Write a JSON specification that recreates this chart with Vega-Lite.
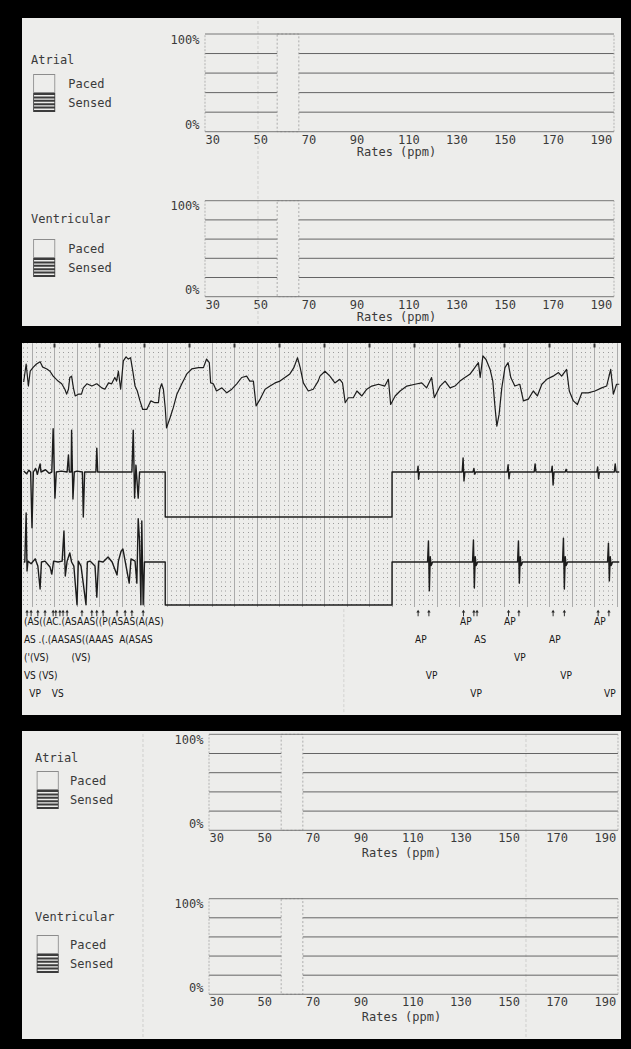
{
  "$schema": "https://vega.github.io/schema/vega-lite/v6.json",
  "background": "#000000",
  "padding": {"left": 22, "top": 18, "right": 10, "bottom": 11},
  "spacing": 16,
  "config": {
    "view": {"stroke": null},
    "axis": {"labelFont": "DejaVu Sans Mono", "labelFontSize": 12, "labelColor": "#3a3a3a", "titleFont": "DejaVu Sans Mono", "titleFontSize": 12, "titleFontWeight": "normal", "titleColor": "#3a3a3a", "domain": false, "ticks": false, "tickSize": 0, "grid": false, "labelOverlap": false, "labelBound": false, "labelFlush": false, "minExtent": 0, "maxExtent": 0},
    "legend": {"titleFont": "DejaVu Sans Mono", "titleFontSize": 12, "titleFontWeight": "normal", "titleColor": "#3a3a3a", "labelFont": "DejaVu Sans Mono", "labelFontSize": 12, "labelColor": "#3a3a3a", "padding": 0, "rowPadding": 0, "symbolSize": 361, "symbolStrokeWidth": 0, "orient": "none", "direction": "vertical", "titleAnchor": "start"}
  },
  "datasets": {
    "hist": [
      {"chamber": "Atrial", "lo": 60, "hi": 69, "pct": 100, "mode": "Paced"},
      {"chamber": "Ventricular", "lo": 60, "hi": 69, "pct": 100, "mode": "Paced"}
    ],
    "grid": [{"g": 0}, {"g": 20}, {"g": 40}, {"g": 60}, {"g": 80}, {"g": 100}],
    "edges": [{"rate": 30}, {"rate": 200}],
    "modes": [{"mode": "Paced"}, {"mode": "Sensed"}],
    "folds1": [{"rate": 52.03}],
    "folds3": [{"rate": 2.56}, {"rate": 161.76}],
    "foldsEcg": [{"t": 6.93}],
    "ecg": [
      {"ch":"surface","t":-0.185,"mm":50.0},{"ch":"surface","t":-0.13,"mm":54.0},{"ch":"surface","t":-0.08,"mm":49.1},{"ch":"surface","t":-0.04,"mm":52.4},{"ch":"surface","t":0.03,"mm":53.3},{"ch":"surface","t":0.10,"mm":54.0},{"ch":"surface","t":0.18,"mm":54.5},{"ch":"surface","t":0.24,"mm":53.3},{"ch":"surface","t":0.33,"mm":52.9},{"ch":"surface","t":0.40,"mm":52.4},{"ch":"surface","t":0.47,"mm":51.3},{"ch":"surface","t":0.58,"mm":50.2},{"ch":"surface","t":0.66,"mm":49.6},{"ch":"surface","t":0.73,"mm":48.4},{"ch":"surface","t":0.77,"mm":47.3},{"ch":"surface","t":0.81,"mm":48.4},{"ch":"surface","t":0.84,"mm":51.0},{"ch":"surface","t":0.88,"mm":51.3},{"ch":"surface","t":0.92,"mm":48.7},{"ch":"surface","t":0.96,"mm":46.9},{"ch":"surface","t":1.03,"mm":47.3},{"ch":"surface","t":1.10,"mm":47.3},{"ch":"surface","t":1.14,"mm":48.7},{"ch":"surface","t":1.22,"mm":49.6},{"ch":"surface","t":1.33,"mm":49.1},{"ch":"surface","t":1.44,"mm":49.6},{"ch":"surface","t":1.55,"mm":48.7},{"ch":"surface","t":1.62,"mm":48.4},{"ch":"surface","t":1.70,"mm":49.8},{"ch":"surface","t":1.77,"mm":49.6},{"ch":"surface","t":1.84,"mm":51.0},{"ch":"surface","t":1.88,"mm":50.2},{"ch":"surface","t":1.92,"mm":52.4},{"ch":"surface","t":1.97,"mm":48.4},{"ch":"surface","t":2.03,"mm":54.7},{"ch":"surface","t":2.09,"mm":55.6},{"ch":"surface","t":2.14,"mm":55.1},{"ch":"surface","t":2.19,"mm":55.4},{"ch":"surface","t":2.24,"mm":52.4},{"ch":"surface","t":2.29,"mm":49.1},{"ch":"surface","t":2.34,"mm":48.0},{"ch":"surface","t":2.40,"mm":45.8},{"ch":"surface","t":2.46,"mm":43.9},{"ch":"surface","t":2.55,"mm":43.9},{"ch":"surface","t":2.64,"mm":45.8},{"ch":"surface","t":2.73,"mm":45.4},{"ch":"surface","t":2.81,"mm":45.4},{"ch":"surface","t":2.84,"mm":48.4},{"ch":"surface","t":2.88,"mm":49.6},{"ch":"surface","t":2.92,"mm":48.4},{"ch":"surface","t":2.96,"mm":44.3},{"ch":"surface","t":2.99,"mm":39.8},{"ch":"surface","t":3.07,"mm":42.1},{"ch":"surface","t":3.14,"mm":44.3},{"ch":"surface","t":3.22,"mm":47.3},{"ch":"surface","t":3.33,"mm":49.6},{"ch":"surface","t":3.44,"mm":51.8},{"ch":"surface","t":3.55,"mm":52.9},{"ch":"surface","t":3.70,"mm":53.2},{"ch":"surface","t":3.81,"mm":53.2},{"ch":"surface","t":3.88,"mm":55.1},{"ch":"surface","t":3.94,"mm":54.3},{"ch":"surface","t":3.97,"mm":49.8},{"ch":"surface","t":4.03,"mm":49.6},{"ch":"surface","t":4.10,"mm":48.0},{"ch":"surface","t":4.22,"mm":48.7},{"ch":"surface","t":4.33,"mm":47.6},{"ch":"surface","t":4.44,"mm":48.4},{"ch":"surface","t":4.55,"mm":49.6},{"ch":"surface","t":4.66,"mm":51.0},{"ch":"surface","t":4.77,"mm":51.3},{"ch":"surface","t":4.84,"mm":50.2},{"ch":"surface","t":4.92,"mm":50.2},{"ch":"surface","t":4.98,"mm":44.7},{"ch":"surface","t":5.07,"mm":46.2},{"ch":"surface","t":5.18,"mm":48.4},{"ch":"surface","t":5.29,"mm":49.1},{"ch":"surface","t":5.40,"mm":49.8},{"ch":"surface","t":5.51,"mm":50.2},{"ch":"surface","t":5.62,"mm":51.0},{"ch":"surface","t":5.73,"mm":51.8},{"ch":"surface","t":5.82,"mm":53.2},{"ch":"surface","t":5.90,"mm":55.4},{"ch":"surface","t":5.96,"mm":53.2},{"ch":"surface","t":6.03,"mm":49.8},{"ch":"surface","t":6.14,"mm":48.0},{"ch":"surface","t":6.25,"mm":48.4},{"ch":"surface","t":6.36,"mm":50.2},{"ch":"surface","t":6.40,"mm":51.3},{"ch":"surface","t":6.51,"mm":52.4},{"ch":"surface","t":6.62,"mm":51.3},{"ch":"surface","t":6.73,"mm":49.8},{"ch":"surface","t":6.84,"mm":50.6},{"ch":"surface","t":6.90,"mm":49.8},{"ch":"surface","t":6.96,"mm":45.4},{"ch":"surface","t":7.03,"mm":46.5},{"ch":"surface","t":7.14,"mm":46.5},{"ch":"surface","t":7.22,"mm":48.0},{"ch":"surface","t":7.33,"mm":46.9},{"ch":"surface","t":7.44,"mm":48.4},{"ch":"surface","t":7.55,"mm":49.1},{"ch":"surface","t":7.70,"mm":49.5},{"ch":"surface","t":7.84,"mm":49.1},{"ch":"surface","t":7.92,"mm":50.6},{"ch":"surface","t":7.97,"mm":45.0},{"ch":"surface","t":8.07,"mm":46.9},{"ch":"surface","t":8.18,"mm":48.0},{"ch":"surface","t":8.33,"mm":49.1},{"ch":"surface","t":8.51,"mm":49.5},{"ch":"surface","t":8.66,"mm":49.8},{"ch":"surface","t":8.77,"mm":48.7},{"ch":"surface","t":8.88,"mm":51.0},{"ch":"surface","t":8.94,"mm":46.5},{"ch":"surface","t":9.07,"mm":49.1},{"ch":"surface","t":9.18,"mm":50.2},{"ch":"surface","t":9.29,"mm":48.7},{"ch":"surface","t":9.40,"mm":49.1},{"ch":"surface","t":9.51,"mm":50.2},{"ch":"surface","t":9.62,"mm":51.0},{"ch":"surface","t":9.73,"mm":51.7},{"ch":"surface","t":9.84,"mm":53.2},{"ch":"surface","t":9.92,"mm":54.3},{"ch":"surface","t":9.96,"mm":51.0},{"ch":"surface","t":10.02,"mm":55.8},{"ch":"surface","t":10.09,"mm":55.0},{"ch":"surface","t":10.18,"mm":52.8},{"ch":"surface","t":10.24,"mm":50.2},{"ch":"surface","t":10.29,"mm":44.3},{"ch":"surface","t":10.33,"mm":40.2},{"ch":"surface","t":10.38,"mm":42.8},{"ch":"surface","t":10.44,"mm":48.7},{"ch":"surface","t":10.51,"mm":53.2},{"ch":"surface","t":10.58,"mm":54.3},{"ch":"surface","t":10.64,"mm":51.0},{"ch":"surface","t":10.73,"mm":49.1},{"ch":"surface","t":10.84,"mm":49.5},{"ch":"surface","t":10.92,"mm":45.8},{"ch":"surface","t":11.03,"mm":46.2},{"ch":"surface","t":11.14,"mm":48.0},{"ch":"surface","t":11.23,"mm":46.9},{"ch":"surface","t":11.33,"mm":49.5},{"ch":"surface","t":11.44,"mm":50.6},{"ch":"surface","t":11.58,"mm":51.3},{"ch":"surface","t":11.70,"mm":52.1},{"ch":"surface","t":11.77,"mm":51.3},{"ch":"surface","t":11.88,"mm":52.8},{"ch":"surface","t":11.94,"mm":48.0},{"ch":"surface","t":12.03,"mm":45.8},{"ch":"surface","t":12.12,"mm":45.0},{"ch":"surface","t":12.22,"mm":47.6},{"ch":"surface","t":12.36,"mm":47.6},{"ch":"surface","t":12.51,"mm":48.0},{"ch":"surface","t":12.66,"mm":48.7},{"ch":"surface","t":12.77,"mm":49.1},{"ch":"surface","t":12.86,"mm":52.8},{"ch":"surface","t":12.92,"mm":47.3},{"ch":"surface","t":12.99,"mm":49.5},{"ch":"surface","t":13.05,"mm":49.5},

      {"ch":"atrial","t":-0.185,"mm":30.2},{"ch":"atrial","t":-0.12,"mm":29.6},{"ch":"atrial","t":-0.07,"mm":30.4},{"ch":"atrial","t":-0.03,"mm":30},{"ch":"atrial","t":0.0,"mm":17.6},{"ch":"atrial","t":0.03,"mm":30},{"ch":"atrial","t":0.08,"mm":30.8},{"ch":"atrial","t":0.12,"mm":29.5},{"ch":"atrial","t":0.18,"mm":31.8},{"ch":"atrial","t":0.2,"mm":30},{"ch":"atrial","t":0.3,"mm":30.5},{"ch":"atrial","t":0.38,"mm":29.7},{"ch":"atrial","t":0.44,"mm":30},{"ch":"atrial","t":0.47,"mm":39.6},{"ch":"atrial","t":0.51,"mm":24.2},{"ch":"atrial","t":0.54,"mm":30},{"ch":"atrial","t":0.65,"mm":30.2},{"ch":"atrial","t":0.78,"mm":30},{"ch":"atrial","t":0.81,"mm":33.8},{"ch":"atrial","t":0.83,"mm":30},{"ch":"atrial","t":0.87,"mm":30},{"ch":"atrial","t":0.88,"mm":39.3},{"ch":"atrial","t":0.91,"mm":24.0},{"ch":"atrial","t":0.94,"mm":30},{"ch":"atrial","t":1.0,"mm":30.2},{"ch":"atrial","t":1.12,"mm":30},{"ch":"atrial","t":1.14,"mm":20.0},{"ch":"atrial","t":1.17,"mm":30},{"ch":"atrial","t":1.3,"mm":30},{"ch":"atrial","t":1.42,"mm":30},{"ch":"atrial","t":1.44,"mm":35.3},{"ch":"atrial","t":1.46,"mm":30},{"ch":"atrial","t":1.8,"mm":30},{"ch":"atrial","t":2.22,"mm":30},{"ch":"atrial","t":2.25,"mm":39.3},{"ch":"atrial","t":2.28,"mm":24.2},{"ch":"atrial","t":2.31,"mm":31.5},{"ch":"atrial","t":2.33,"mm":28.5},{"ch":"atrial","t":2.36,"mm":24.2},{"ch":"atrial","t":2.39,"mm":30},{"ch":"atrial","t":2.96,"mm":30},{"ch":"atrial","t":2.961,"mm":20},{"ch":"atrial","t":8.0,"mm":20},{"ch":"atrial","t":8.001,"mm":30},{"ch":"atrial","t":8.56,"mm":30},{"ch":"atrial","t":8.58,"mm":31.3},{"ch":"atrial","t":8.59,"mm":28.4},{"ch":"atrial","t":8.61,"mm":30},{"ch":"atrial","t":9.56,"mm":30},{"ch":"atrial","t":9.58,"mm":33.1},{"ch":"atrial","t":9.6,"mm":28.0},{"ch":"atrial","t":9.62,"mm":30},{"ch":"atrial","t":9.8,"mm":30},{"ch":"atrial","t":9.82,"mm":30.8},{"ch":"atrial","t":9.84,"mm":29.5},{"ch":"atrial","t":9.86,"mm":30},{"ch":"atrial","t":10.56,"mm":30},{"ch":"atrial","t":10.58,"mm":31.6},{"ch":"atrial","t":10.6,"mm":28.5},{"ch":"atrial","t":10.62,"mm":30},{"ch":"atrial","t":11.16,"mm":30},{"ch":"atrial","t":11.18,"mm":31.8},{"ch":"atrial","t":11.2,"mm":30},{"ch":"atrial","t":11.54,"mm":30},{"ch":"atrial","t":11.56,"mm":31.3},{"ch":"atrial","t":11.58,"mm":27.1},{"ch":"atrial","t":11.6,"mm":30},{"ch":"atrial","t":11.85,"mm":30},{"ch":"atrial","t":11.87,"mm":30.6},{"ch":"atrial","t":11.89,"mm":30},{"ch":"atrial","t":12.55,"mm":30},{"ch":"atrial","t":12.57,"mm":31.1},{"ch":"atrial","t":12.59,"mm":28.6},{"ch":"atrial","t":12.61,"mm":30},{"ch":"atrial","t":12.94,"mm":30},{"ch":"atrial","t":12.96,"mm":31.8},{"ch":"atrial","t":12.98,"mm":30},{"ch":"atrial","t":13.05,"mm":30},

      {"ch":"ventricular","t":-0.185,"mm":10},{"ch":"ventricular","t":-0.16,"mm":10},{"ch":"ventricular","t":-0.13,"mm":20.9},{"ch":"ventricular","t":-0.11,"mm":8.0},{"ch":"ventricular","t":-0.09,"mm":10.2},{"ch":"ventricular","t":-0.02,"mm":9.6},{"ch":"ventricular","t":0.07,"mm":10.7},{"ch":"ventricular","t":0.13,"mm":9.1},{"ch":"ventricular","t":0.18,"mm":4.0},{"ch":"ventricular","t":0.21,"mm":10},{"ch":"ventricular","t":0.29,"mm":10.2},{"ch":"ventricular","t":0.4,"mm":8.9},{"ch":"ventricular","t":0.44,"mm":7.3},{"ch":"ventricular","t":0.48,"mm":10.2},{"ch":"ventricular","t":0.58,"mm":10},{"ch":"ventricular","t":0.67,"mm":10.2},{"ch":"ventricular","t":0.71,"mm":16.9},{"ch":"ventricular","t":0.74,"mm":6.9},{"ch":"ventricular","t":0.78,"mm":10.2},{"ch":"ventricular","t":0.84,"mm":12.0},{"ch":"ventricular","t":0.88,"mm":10},{"ch":"ventricular","t":0.93,"mm":9.1},{"ch":"ventricular","t":1.0,"mm":0.5},{"ch":"ventricular","t":1.03,"mm":10.2},{"ch":"ventricular","t":1.09,"mm":9.1},{"ch":"ventricular","t":1.2,"mm":0.5},{"ch":"ventricular","t":1.23,"mm":10},{"ch":"ventricular","t":1.29,"mm":10.2},{"ch":"ventricular","t":1.4,"mm":9.1},{"ch":"ventricular","t":1.44,"mm":2.2},{"ch":"ventricular","t":1.48,"mm":10.2},{"ch":"ventricular","t":1.58,"mm":10},{"ch":"ventricular","t":1.69,"mm":11.1},{"ch":"ventricular","t":1.78,"mm":10},{"ch":"ventricular","t":1.89,"mm":7.1},{"ch":"ventricular","t":1.92,"mm":10.2},{"ch":"ventricular","t":1.98,"mm":12.4},{"ch":"ventricular","t":2.02,"mm":12.9},{"ch":"ventricular","t":2.07,"mm":10.2},{"ch":"ventricular","t":2.16,"mm":5.3},{"ch":"ventricular","t":2.2,"mm":10.7},{"ch":"ventricular","t":2.29,"mm":10.2},{"ch":"ventricular","t":2.33,"mm":5.3},{"ch":"ventricular","t":2.36,"mm":19.6},{"ch":"ventricular","t":2.39,"mm":14.7},{"ch":"ventricular","t":2.42,"mm":0.5},{"ch":"ventricular","t":2.44,"mm":19.1},{"ch":"ventricular","t":2.47,"mm":0.5},{"ch":"ventricular","t":2.5,"mm":10},{"ch":"ventricular","t":2.96,"mm":10},{"ch":"ventricular","t":2.961,"mm":0.45},{"ch":"ventricular","t":8.0,"mm":0.45},{"ch":"ventricular","t":8.001,"mm":10},
      {"ch":"ventricular","t":8.79,"mm":10},{"ch":"ventricular","t":8.81,"mm":14.7},{"ch":"ventricular","t":8.83,"mm":3.6},{"ch":"ventricular","t":8.85,"mm":11.2},{"ch":"ventricular","t":8.87,"mm":9.2},{"ch":"ventricular","t":8.9,"mm":10},
      {"ch":"ventricular","t":9.79,"mm":10},{"ch":"ventricular","t":9.81,"mm":14.9},{"ch":"ventricular","t":9.83,"mm":4.2},{"ch":"ventricular","t":9.85,"mm":11.2},{"ch":"ventricular","t":9.87,"mm":9.2},{"ch":"ventricular","t":9.9,"mm":10},
      {"ch":"ventricular","t":10.79,"mm":10},{"ch":"ventricular","t":10.81,"mm":14.7},{"ch":"ventricular","t":10.83,"mm":5.3},{"ch":"ventricular","t":10.85,"mm":11.2},{"ch":"ventricular","t":10.87,"mm":9.2},{"ch":"ventricular","t":10.9,"mm":10},
      {"ch":"ventricular","t":11.79,"mm":10},{"ch":"ventricular","t":11.81,"mm":15.3},{"ch":"ventricular","t":11.83,"mm":4.0},{"ch":"ventricular","t":11.85,"mm":11.2},{"ch":"ventricular","t":11.87,"mm":9.2},{"ch":"ventricular","t":11.9,"mm":10},
      {"ch":"ventricular","t":12.79,"mm":10},{"ch":"ventricular","t":12.81,"mm":14.2},{"ch":"ventricular","t":12.83,"mm":5.8},{"ch":"ventricular","t":12.85,"mm":11.2},{"ch":"ventricular","t":12.87,"mm":9.2},{"ch":"ventricular","t":12.9,"mm":10},
      {"ch":"ventricular","t":13.05,"mm":10}
    ],
    "markers": [
      {"t":-0.11},{"t":-0.02},{"t":0.13},{"t":0.29},{"t":0.47},{"t":0.53},{"t":0.62},{"t":0.69},{"t":0.78},{"t":1.11},{"t":1.33},{"t":1.44},{"t":1.58},{"t":1.89},{"t":2.07},{"t":2.22},{"t":2.47},
      {"t":8.58},{"t":8.82},{"t":9.59},{"t":9.82},{"t":9.89},{"t":10.59},{"t":10.82},{"t":11.58},{"t":11.83},{"t":12.58},{"t":12.82}
    ],
    "labels": [
      {"t":-0.18,"row":1,"label":"(AS((AC.(ASAAS((P(ASAS(A(AS)","pos":"left"},
      {"t":-0.18,"row":2,"label":"AS .(.(AASAS((AAAS\u00a0 A(ASAS","pos":"left"},
      {"t":-0.18,"row":3,"label":"('(VS)","pos":"left"},
      {"t":0.88,"row":3,"label":"(VS)","pos":"left"},
      {"t":-0.18,"row":4,"label":"VS (VS)","pos":"left"},
      {"t":-0.06,"row":5,"label":"VP","pos":"left"},
      {"t":0.44,"row":5,"label":"VS","pos":"left"},
      {"t":9.64,"row":1,"label":"AP","pos":"center"},
      {"t":10.62,"row":1,"label":"AP","pos":"center"},
      {"t":12.62,"row":1,"label":"AP","pos":"center"},
      {"t":8.64,"row":2,"label":"AP","pos":"center"},
      {"t":9.96,"row":2,"label":"AS","pos":"center"},
      {"t":11.62,"row":2,"label":"AP","pos":"center"},
      {"t":10.84,"row":3,"label":"VP","pos":"center"},
      {"t":8.88,"row":4,"label":"VP","pos":"center"},
      {"t":11.87,"row":4,"label":"VP","pos":"center"},
      {"t":9.87,"row":5,"label":"VP","pos":"center"},
      {"t":12.84,"row":5,"label":"VP","pos":"center"}
    ]
  },
  "vconcat": [
    {
      "width": 599, "height": 308,
      "view": {"fill": "#ededeb", "stroke": null},
      "resolve": {"scale": {"x": "independent", "y": "independent", "color": "independent", "shape": "independent"}, "axis": {"x": "independent", "y": "independent"}, "legend": {"color": "independent", "shape": "independent"}},
      "layer": [
        {"data": {"name": "folds1"},
         "mark": {"type": "rule", "color": "#cfcfcd", "strokeWidth": 1, "strokeDash": [3, 2]},
         "encoding": {"x": {"field": "rate", "type": "quantitative", "scale": {"domain": [-46.06, 202.91], "nice": false, "zero": false}, "axis": null}, "y": {"datum": -196.8, "type": "quantitative", "scale": {"domain": [-198.87, 116.38], "nice": false, "zero": false}, "axis": null}, "y2": {"datum": 114.3}}},
        {"data": {"name": "grid"}, "transform": [{"filter": "datum.g > 0 && datum.g < 100"}],
         "mark": {"type": "rule", "color": "#646464", "strokeWidth": 1},
         "encoding": {
           "x": {"datum": 30, "type": "quantitative", "scale": {"domain": [-46.06, 202.91], "nice": false, "zero": false}, "axis": {"orient": "bottom", "offset": -194.3, "values": [30, 50, 70, 90, 110, 130, 150, 170, 190], "labelAlign": "left", "labelBaseline": "top", "labelPadding": 2.5, "title": "Rates (ppm)", "titleX": 374, "titleY": 15, "titleAlign": "center", "titleBaseline": "top"}},
           "x2": {"datum": 200},
           "y": {"field": "g", "type": "quantitative", "scale": {"domain": [-198.87, 116.38], "nice": false, "zero": false}, "axis": {"orient": "left", "offset": -183, "values": [0, 100], "labelExpr": "datum.value + '%'", "labelPadding": 6, "labelBaseline": {"condition": {"test": "datum.value == 100", "value": "top"}, "value": "bottom"}, "title": null}}}},
        {"data": {"name": "hist"}, "transform": [{"filter": "datum.chamber == 'Atrial'"}],
         "mark": {"type": "rect", "fill": "#ededeb", "stroke": "#9d9d9d", "strokeWidth": 0.8, "strokeDash": [2, 2]},
         "encoding": {
           "x": {"field": "lo", "type": "quantitative", "scale": {"domain": [-46.06, 202.91], "nice": false, "zero": false}, "axis": null},
           "x2": {"field": "hi"},
           "y": {"field": "pct", "type": "quantitative", "scale": {"domain": [-198.87, 116.38], "nice": false, "zero": false}, "axis": null},
           "y2": {"datum": 0}}},
        {"data": {"name": "grid"}, "transform": [{"filter": "datum.g == 0 || datum.g == 100"}],
         "mark": {"type": "rule", "color": "#777777", "strokeWidth": 1},
         "encoding": {"x": {"datum": 30, "type": "quantitative", "scale": {"domain": [-46.06, 202.91], "nice": false, "zero": false}, "axis": null}, "x2": {"datum": 200}, "y": {"field": "g", "type": "quantitative", "scale": {"domain": [-198.87, 116.38], "nice": false, "zero": false}, "axis": null}}},
        {"data": {"name": "edges"},
         "mark": {"type": "rule", "color": "#a5a5a5", "strokeWidth": 0.8, "strokeDash": [2, 1.5]},
         "encoding": {"x": {"field": "rate", "type": "quantitative", "scale": {"domain": [-46.06, 202.91], "nice": false, "zero": false}, "axis": null}, "y": {"datum": 0, "type": "quantitative", "scale": {"domain": [-198.87, 116.38], "nice": false, "zero": false}, "axis": null}, "y2": {"datum": 100}}},
        {"data": {"name": "modes"}, "transform": [{"filter": "false"}],
         "mark": {"type": "point", "filled": true, "opacity": 1, "strokeWidth": 0},
         "encoding": {
           "shape": {"field": "mode", "type": "nominal", "scale": {"domain": ["Paced", "Sensed"], "range": ["M-1.16,-1H1.16V1H-1.16Z M-1.07,-0.9V0.9H1.07V-0.9Z", "M-1.16,-1H1.16V-0.78H-1.16Z M-1.16,-0.644H1.16V-0.424H-1.16Z M-1.16,-0.288H1.16V-0.068H-1.16Z M-1.16,0.068H1.16V0.288H-1.16Z M-1.16,0.424H1.16V0.644H-1.16Z M-1.16,0.78H1.16V1H-1.16Z M-1.16,-1H-1.07V1H-1.16Z M1.07,-1H1.16V1H1.07Z"]}, "legend": {"title": "Atrial", "legendX": 9, "legendY": 37.3, "titlePadding": 6.7, "symbolOffset": 3.7, "labelOffset": 14.6}},
           "color": {"field": "mode", "type": "nominal", "scale": {"domain": ["Paced", "Sensed"], "range": ["#8c8c8c", "#3c3c3c"]}, "legend": {"title": "Atrial", "legendX": 9, "legendY": 37.3, "titlePadding": 6.7, "symbolOffset": 3.7, "labelOffset": 14.6}}
         }},
        {"data": {"name": "grid"}, "transform": [{"filter": "datum.g > 0 && datum.g < 100"}],
         "mark": {"type": "rule", "color": "#646464", "strokeWidth": 1},
         "encoding": {
           "x": {"datum": 30, "type": "quantitative", "scale": {"domain": [-46.06, 202.91], "nice": false, "zero": false}, "axis": {"orient": "bottom", "offset": -29.3, "values": [30, 50, 70, 90, 110, 130, 150, 170, 190], "labelAlign": "left", "labelBaseline": "top", "labelPadding": 2.5, "title": "Rates (ppm)", "titleX": 374, "titleY": 15, "titleAlign": "center", "titleBaseline": "top"}},
           "x2": {"datum": 200},
           "y": {"field": "g", "type": "quantitative", "scale": {"domain": [-30.52, 290.31], "nice": false, "zero": false}, "axis": {"orient": "left", "offset": -183, "values": [0, 100], "labelExpr": "datum.value + '%'", "labelPadding": 6, "labelBaseline": {"condition": {"test": "datum.value == 100", "value": "top"}, "value": "bottom"}, "title": null}}}},
        {"data": {"name": "hist"}, "transform": [{"filter": "datum.chamber == 'Ventricular'"}],
         "mark": {"type": "rect", "fill": "#ededeb", "stroke": "#9d9d9d", "strokeWidth": 0.8, "strokeDash": [2, 2]},
         "encoding": {
           "x": {"field": "lo", "type": "quantitative", "scale": {"domain": [-46.06, 202.91], "nice": false, "zero": false}, "axis": null},
           "x2": {"field": "hi"},
           "y": {"field": "pct", "type": "quantitative", "scale": {"domain": [-30.52, 290.31], "nice": false, "zero": false}, "axis": null},
           "y2": {"datum": 0}}},
        {"data": {"name": "grid"}, "transform": [{"filter": "datum.g == 0 || datum.g == 100"}],
         "mark": {"type": "rule", "color": "#777777", "strokeWidth": 1},
         "encoding": {"x": {"datum": 30, "type": "quantitative", "scale": {"domain": [-46.06, 202.91], "nice": false, "zero": false}, "axis": null}, "x2": {"datum": 200}, "y": {"field": "g", "type": "quantitative", "scale": {"domain": [-30.52, 290.31], "nice": false, "zero": false}, "axis": null}}},
        {"data": {"name": "edges"},
         "mark": {"type": "rule", "color": "#a5a5a5", "strokeWidth": 0.8, "strokeDash": [2, 1.5]},
         "encoding": {"x": {"field": "rate", "type": "quantitative", "scale": {"domain": [-46.06, 202.91], "nice": false, "zero": false}, "axis": null}, "y": {"datum": 0, "type": "quantitative", "scale": {"domain": [-30.52, 290.31], "nice": false, "zero": false}, "axis": null}, "y2": {"datum": 100}}},
        {"data": {"name": "modes"}, "transform": [{"filter": "false"}],
         "mark": {"type": "point", "filled": true, "opacity": 1, "strokeWidth": 0},
         "encoding": {
           "shape": {"field": "mode", "type": "nominal", "scale": {"domain": ["Paced", "Sensed"], "range": ["M-1.16,-1H1.16V1H-1.16Z M-1.07,-0.9V0.9H1.07V-0.9Z", "M-1.16,-1H1.16V-0.78H-1.16Z M-1.16,-0.644H1.16V-0.424H-1.16Z M-1.16,-0.288H1.16V-0.068H-1.16Z M-1.16,0.068H1.16V0.288H-1.16Z M-1.16,0.424H1.16V0.644H-1.16Z M-1.16,0.78H1.16V1H-1.16Z M-1.16,-1H-1.07V1H-1.16Z M1.07,-1H1.16V1H1.07Z"]}, "legend": {"title": "Ventricular", "legendX": 9, "legendY": 196, "titlePadding": 13, "symbolOffset": 3.7, "labelOffset": 14.6}},
           "color": {"field": "mode", "type": "nominal", "scale": {"domain": ["Paced", "Sensed"], "range": ["#8c8c8c", "#3c3c3c"]}, "legend": {"title": "Ventricular", "legendX": 9, "legendY": 196, "titlePadding": 13, "symbolOffset": 3.7, "labelOffset": 14.6}}
         }}
      ]
    },
    {
      "spacing": 0,
      "bounds": "flush",
      "vconcat": [
        {
          "width": 599, "height": 264,
          "view": {"fill": "#ededeb", "stroke": null},
          "data": {"name": "ecg"},
          "resolve": {"axis": {"x": "independent"}},
          "layer": [
            {"transform": [{"filter": "datum.ch == 'surface'"}],
             "mark": {"type": "line", "color": "#1c1c1c", "strokeWidth": 1.2, "strokeJoin": "round"},
             "encoding": {
               "x": {"field": "t", "type": "quantitative", "scale": {"domain": [-0.2222, 13.0889], "nice": false, "zero": false}, "axis": {"orient": "bottom", "values": [-0.2,-0.1,0,0.1,0.2,0.3,0.4,0.5,0.6,0.7,0.8,0.9,1,1.1,1.2,1.3,1.4,1.5,1.6,1.7,1.8,1.9,2,2.1,2.2,2.3,2.4,2.5,2.6,2.7,2.8,2.9,3,3.1,3.2,3.3,3.4,3.5,3.6,3.7,3.8,3.9,4,4.1,4.2,4.3,4.4,4.5,4.6,4.7,4.8,4.9,5,5.1,5.2,5.3,5.4,5.5,5.6,5.7,5.8,5.9,6,6.1,6.2,6.3,6.4,6.5,6.6,6.7,6.8,6.9,7,7.1,7.2,7.3,7.4,7.5,7.6,7.7,7.8,7.9,8,8.1,8.2,8.3,8.4,8.5,8.6,8.7,8.8,8.9,9,9.1,9.2,9.3,9.4,9.5,9.6,9.7,9.8,9.9,10,10.1,10.2,10.3,10.4,10.5,10.6,10.7,10.8,10.9,11,11.1,11.2,11.3,11.4,11.5,11.6,11.7,11.8,11.9,12,12.1,12.2,12.3,12.4,12.5,12.6,12.7,12.8,12.9,13], "grid": true, "gridColor": "#9a9a9a", "gridDash": [1, 3.5], "gridDashOffset": 0.5, "gridWidth": 1, "labels": false, "title": null}},
               "y": {"field": "mm", "type": "quantitative", "scale": {"domain": [0, 58.667], "nice": false, "zero": false}, "axis": {"values": [0,5,10,15,20,25,30,35,40,45,50,55], "grid": true, "gridColor": "#b4b4b4", "gridWidth": 1, "labels": false, "title": null}}
             }},
            {"transform": [{"filter": "datum.ch == 'atrial'"}],
             "mark": {"type": "line", "color": "#1c1c1c", "strokeWidth": 1.4, "strokeJoin": "round"},
             "encoding": {
               "x": {"field": "t", "type": "quantitative", "scale": {"domain": [-0.2222, 13.0889], "nice": false, "zero": false}, "axis": {"orient": "bottom", "values": [0,0.5,1,1.5,2,2.5,3,3.5,4,4.5,5,5.5,6,6.5,7,7.5,8,8.5,9,9.5,10,10.5,11,11.5,12,12.5,13], "grid": true, "gridColor": "#ababab", "gridWidth": 1, "labels": false, "title": null}},
               "y": {"field": "mm", "type": "quantitative", "scale": {"domain": [0, 58.667], "nice": false, "zero": false}, "axis": null}
             }},
            {"transform": [{"filter": "datum.ch == 'ventricular'"}],
             "mark": {"type": "line", "color": "#1c1c1c", "strokeWidth": 1.4, "strokeJoin": "round"},
             "encoding": {
               "x": {"field": "t", "type": "quantitative", "scale": {"domain": [-0.2222, 13.0889], "nice": false, "zero": false}, "axis": {"orient": "top", "values": [0.5,1.5,2.5,3.5,4.5,5.5,6.5,7.5,8.5,9.5,10.5,11.5,12.5], "ticks": true, "tickSize": -4, "tickWidth": 2, "tickColor": "#333333", "labels": false, "grid": false, "title": null}},
               "y": {"field": "mm", "type": "quantitative", "scale": {"domain": [0, 58.667], "nice": false, "zero": false}, "axis": null}
             }}
          ]
        },
        {
          "width": 599, "height": 108,
          "view": {"fill": "#ededeb", "stroke": null},
          "layer": [
            {"data": {"name": "foldsEcg"},
             "mark": {"type": "rule", "color": "#d2d2d0", "strokeWidth": 1, "strokeDash": [3, 2]},
             "encoding": {
               "x": {"field": "t", "type": "quantitative", "scale": {"domain": [-0.2222, 13.0889], "nice": false, "zero": false}, "axis": null},
               "y": {"datum": 0.31, "type": "quantitative", "scale": {"domain": [0.194, 6.194], "reverse": true, "nice": false, "zero": false}, "axis": null},
               "y2": {"datum": 6.08}
             }},
            {"data": {"name": "markers"},
             "mark": {"type": "point", "shape": "M0,-1L0.55,-0.2L0.15,-0.2L0.15,1L-0.15,1L-0.15,-0.2L-0.55,-0.2Z", "filled": true, "color": "#262626", "opacity": 1, "size": 40, "strokeWidth": 0, "yOffset": -8.5},
             "encoding": {
               "x": {"field": "t", "type": "quantitative", "scale": {"domain": [-0.2222, 13.0889], "nice": false, "zero": false}, "axis": null},
               "y": {"datum": 1, "type": "quantitative", "scale": {"domain": [0.194, 6.194], "reverse": true, "nice": false, "zero": false}, "axis": null}
             }},
            {"data": {"name": "labels"}, "transform": [{"filter": "datum.pos == 'left'"}],
             "mark": {"type": "text", "align": "left", "baseline": "middle", "font": "DejaVu Sans Condensed, Liberation Sans Narrow, sans-serif", "fontSize": 10, "color": "#151515"},
             "encoding": {
               "x": {"field": "t", "type": "quantitative", "scale": {"domain": [-0.2222, 13.0889], "nice": false, "zero": false}, "axis": null},
               "y": {"field": "row", "type": "quantitative", "scale": {"domain": [0.194, 6.194], "reverse": true, "nice": false, "zero": false}, "axis": null},
               "text": {"field": "label"}
             }},
            {"data": {"name": "labels"}, "transform": [{"filter": "datum.pos == 'center'"}],
             "mark": {"type": "text", "align": "center", "baseline": "middle", "font": "DejaVu Sans Condensed, Liberation Sans Narrow, sans-serif", "fontSize": 10, "color": "#151515"},
             "encoding": {
               "x": {"field": "t", "type": "quantitative", "scale": {"domain": [-0.2222, 13.0889], "nice": false, "zero": false}, "axis": null},
               "y": {"field": "row", "type": "quantitative", "scale": {"domain": [0.194, 6.194], "reverse": true, "nice": false, "zero": false}, "axis": null},
               "text": {"field": "label"}
             }}
          ]
        }
      ]
    },
    {
      "width": 599, "height": 308,
      "view": {"fill": "#ededeb", "stroke": null},
      "resolve": {"scale": {"x": "independent", "y": "independent", "color": "independent", "shape": "independent"}, "axis": {"x": "independent", "y": "independent"}, "legend": {"color": "independent", "shape": "independent"}},
      "layer": [
        {"data": {"name": "folds3"},
         "mark": {"type": "rule", "color": "#cfcfcd", "strokeWidth": 1, "strokeDash": [3, 2]},
         "encoding": {"x": {"field": "rate", "type": "quantitative", "scale": {"domain": [-47.73, 201.25], "nice": false, "zero": false}, "axis": null}, "y": {"datum": -215.3, "type": "quantitative", "scale": {"domain": [-217.4, 103.44], "nice": false, "zero": false}, "axis": null}, "y2": {"datum": 101.4}}},
        {"data": {"name": "grid"}, "transform": [{"filter": "datum.g > 0 && datum.g < 100"}],
         "mark": {"type": "rule", "color": "#646464", "strokeWidth": 1},
         "encoding": {
           "x": {"datum": 30, "type": "quantitative", "scale": {"domain": [-47.73, 201.25], "nice": false, "zero": false}, "axis": {"orient": "bottom", "offset": -208.7, "values": [30, 50, 70, 90, 110, 130, 150, 170, 190], "labelAlign": "left", "labelBaseline": "top", "labelPadding": 2.5, "title": "Rates (ppm)", "titleX": 379, "titleY": 17, "titleAlign": "center", "titleBaseline": "top"}},
           "x2": {"datum": 200},
           "y": {"field": "g", "type": "quantitative", "scale": {"domain": [-217.4, 103.44], "nice": false, "zero": false}, "axis": {"orient": "left", "offset": -187, "values": [0, 100], "labelExpr": "datum.value + '%'", "labelPadding": 6, "labelBaseline": {"condition": {"test": "datum.value == 100", "value": "top"}, "value": "bottom"}, "title": null}}}},
        {"data": {"name": "hist"}, "transform": [{"filter": "datum.chamber == 'Atrial'"}],
         "mark": {"type": "rect", "fill": "#ededeb", "stroke": "#9d9d9d", "strokeWidth": 0.8, "strokeDash": [2, 2]},
         "encoding": {
           "x": {"field": "lo", "type": "quantitative", "scale": {"domain": [-47.73, 201.25], "nice": false, "zero": false}, "axis": null},
           "x2": {"field": "hi"},
           "y": {"field": "pct", "type": "quantitative", "scale": {"domain": [-217.4, 103.44], "nice": false, "zero": false}, "axis": null},
           "y2": {"datum": 0}}},
        {"data": {"name": "grid"}, "transform": [{"filter": "datum.g == 0 || datum.g == 100"}],
         "mark": {"type": "rule", "color": "#777777", "strokeWidth": 1},
         "encoding": {"x": {"datum": 30, "type": "quantitative", "scale": {"domain": [-47.73, 201.25], "nice": false, "zero": false}, "axis": null}, "x2": {"datum": 200}, "y": {"field": "g", "type": "quantitative", "scale": {"domain": [-217.4, 103.44], "nice": false, "zero": false}, "axis": null}}},
        {"data": {"name": "edges"},
         "mark": {"type": "rule", "color": "#a5a5a5", "strokeWidth": 0.8, "strokeDash": [2, 1.5]},
         "encoding": {"x": {"field": "rate", "type": "quantitative", "scale": {"domain": [-47.73, 201.25], "nice": false, "zero": false}, "axis": null}, "y": {"datum": 0, "type": "quantitative", "scale": {"domain": [-217.4, 103.44], "nice": false, "zero": false}, "axis": null}, "y2": {"datum": 100}}},
        {"data": {"name": "modes"}, "transform": [{"filter": "false"}],
         "mark": {"type": "point", "filled": true, "opacity": 1, "strokeWidth": 0},
         "encoding": {
           "shape": {"field": "mode", "type": "nominal", "scale": {"domain": ["Paced", "Sensed"], "range": ["M-1.16,-1H1.16V1H-1.16Z M-1.07,-0.9V0.9H1.07V-0.9Z", "M-1.16,-1H1.16V-0.78H-1.16Z M-1.16,-0.644H1.16V-0.424H-1.16Z M-1.16,-0.288H1.16V-0.068H-1.16Z M-1.16,0.068H1.16V0.288H-1.16Z M-1.16,0.424H1.16V0.644H-1.16Z M-1.16,0.78H1.16V1H-1.16Z M-1.16,-1H-1.07V1H-1.16Z M1.07,-1H1.16V1H1.07Z"]}, "legend": {"title": "Atrial", "legendX": 13, "legendY": 21.6, "titlePadding": 6.4, "symbolOffset": 3.2, "labelOffset": 12.8}},
           "color": {"field": "mode", "type": "nominal", "scale": {"domain": ["Paced", "Sensed"], "range": ["#8c8c8c", "#3c3c3c"]}, "legend": {"title": "Atrial", "legendX": 13, "legendY": 21.6, "titlePadding": 6.4, "symbolOffset": 3.2, "labelOffset": 12.8}}
         }},
        {"data": {"name": "grid"}, "transform": [{"filter": "datum.g > 0 && datum.g < 100"}],
         "mark": {"type": "rule", "color": "#646464", "strokeWidth": 1},
         "encoding": {
           "x": {"datum": 30, "type": "quantitative", "scale": {"domain": [-47.73, 201.25], "nice": false, "zero": false}, "axis": {"orient": "bottom", "offset": -44.7, "values": [30, 50, 70, 90, 110, 130, 150, 170, 190], "labelAlign": "left", "labelBaseline": "top", "labelPadding": 2.5, "title": "Rates (ppm)", "titleX": 379, "titleY": 17.5, "titleAlign": "center", "titleBaseline": "top"}},
           "x2": {"datum": 200},
           "y": {"field": "g", "type": "quantitative", "scale": {"domain": [-46.76, 275.4], "nice": false, "zero": false}, "axis": {"orient": "left", "offset": -187, "values": [0, 100], "labelExpr": "datum.value + '%'", "labelPadding": 6, "labelBaseline": {"condition": {"test": "datum.value == 100", "value": "top"}, "value": "bottom"}, "title": null}}}},
        {"data": {"name": "hist"}, "transform": [{"filter": "datum.chamber == 'Ventricular'"}],
         "mark": {"type": "rect", "fill": "#ededeb", "stroke": "#9d9d9d", "strokeWidth": 0.8, "strokeDash": [2, 2]},
         "encoding": {
           "x": {"field": "lo", "type": "quantitative", "scale": {"domain": [-47.73, 201.25], "nice": false, "zero": false}, "axis": null},
           "x2": {"field": "hi"},
           "y": {"field": "pct", "type": "quantitative", "scale": {"domain": [-46.76, 275.4], "nice": false, "zero": false}, "axis": null},
           "y2": {"datum": 0}}},
        {"data": {"name": "grid"}, "transform": [{"filter": "datum.g == 0 || datum.g == 100"}],
         "mark": {"type": "rule", "color": "#777777", "strokeWidth": 1},
         "encoding": {"x": {"datum": 30, "type": "quantitative", "scale": {"domain": [-47.73, 201.25], "nice": false, "zero": false}, "axis": null}, "x2": {"datum": 200}, "y": {"field": "g", "type": "quantitative", "scale": {"domain": [-46.76, 275.4], "nice": false, "zero": false}, "axis": null}}},
        {"data": {"name": "edges"},
         "mark": {"type": "rule", "color": "#a5a5a5", "strokeWidth": 0.8, "strokeDash": [2, 1.5]},
         "encoding": {"x": {"field": "rate", "type": "quantitative", "scale": {"domain": [-47.73, 201.25], "nice": false, "zero": false}, "axis": null}, "y": {"datum": 0, "type": "quantitative", "scale": {"domain": [-46.76, 275.4], "nice": false, "zero": false}, "axis": null}, "y2": {"datum": 100}}},
        {"data": {"name": "modes"}, "transform": [{"filter": "false"}],
         "mark": {"type": "point", "filled": true, "opacity": 1, "strokeWidth": 0},
         "encoding": {
           "shape": {"field": "mode", "type": "nominal", "scale": {"domain": ["Paced", "Sensed"], "range": ["M-1.16,-1H1.16V1H-1.16Z M-1.07,-0.9V0.9H1.07V-0.9Z", "M-1.16,-1H1.16V-0.78H-1.16Z M-1.16,-0.644H1.16V-0.424H-1.16Z M-1.16,-0.288H1.16V-0.068H-1.16Z M-1.16,0.068H1.16V0.288H-1.16Z M-1.16,0.424H1.16V0.644H-1.16Z M-1.16,0.78H1.16V1H-1.16Z M-1.16,-1H-1.07V1H-1.16Z M1.07,-1H1.16V1H1.07Z"]}, "legend": {"title": "Ventricular", "legendX": 13, "legendY": 181, "titlePadding": 11, "symbolOffset": 3.2, "labelOffset": 12.8}},
           "color": {"field": "mode", "type": "nominal", "scale": {"domain": ["Paced", "Sensed"], "range": ["#8c8c8c", "#3c3c3c"]}, "legend": {"title": "Ventricular", "legendX": 13, "legendY": 181, "titlePadding": 11, "symbolOffset": 3.2, "labelOffset": 12.8}}
         }}
      ]
    }
  ]
}
